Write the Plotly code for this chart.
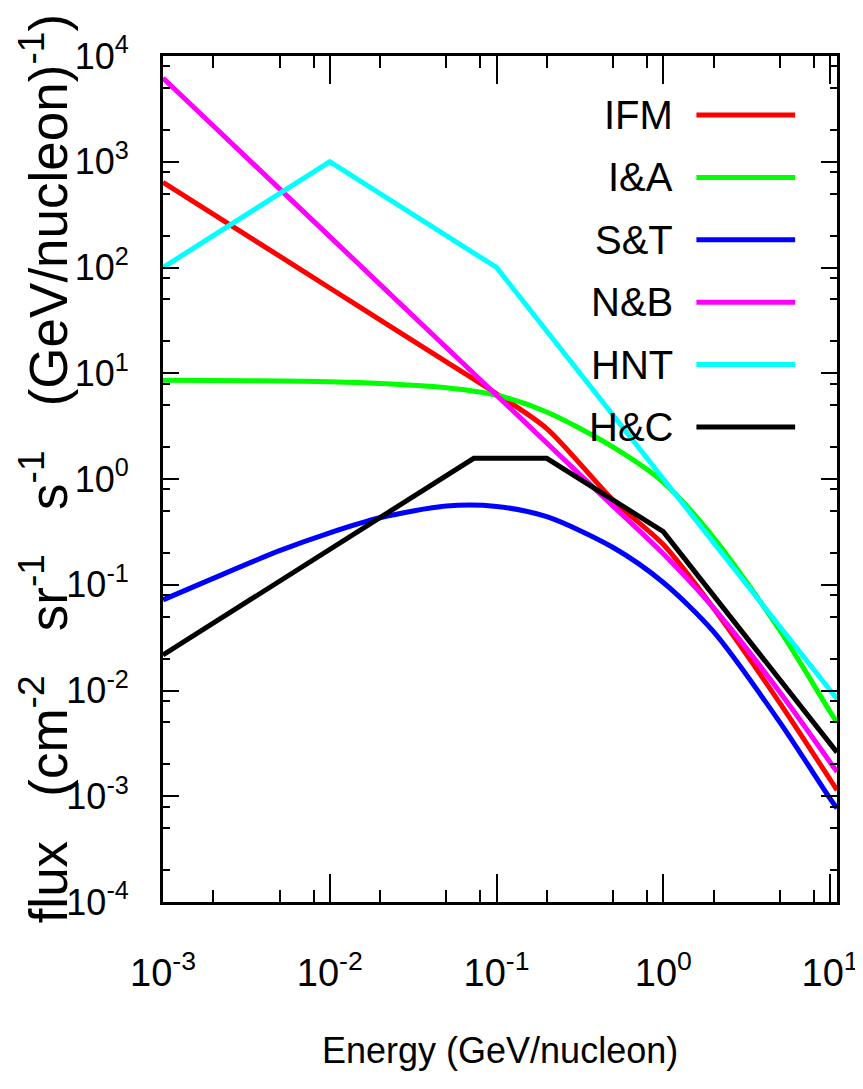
import numpy as np
import plotly.graph_objects as go

# ---- data ----
energy = [0.001, 0.002, 0.005, 0.01, 0.02, 0.05, 0.1, 0.2, 0.5, 1, 2, 5, 10, 11]
ifm = [640, 320, 128, 64, 32, 12.8, 6.4, 3.0, 0.63, 0.24, 0.06, 0.0076, 0.00144, 0.00114]
ia = [8.6, 8.55, 8.45, 8.3, 8.0, 7.3, 6.2, 4.3, 2.0, 0.93, 0.28, 0.037, 0.0063, 0.0050]
st = [0.072, 0.115, 0.21, 0.31, 0.43, 0.555, 0.55, 0.44, 0.225, 0.105, 0.036, 0.005, 0.00095, 0.00077]
nb = [6200, 2190, 554, 196, 69.3, 17.5, 6.2, 2.19, 0.554, 0.196, 0.0603, 0.00965, 0.0021, 0.0017]

hnt_e = [0.001, 0.01, 0.1, 11]
hnt = [100, 1000, 100, 0.0083]

hc_e = [0.001, 0.073, 0.2, 1, 11]
hc = [0.0217, 1.57, 1.57, 0.318, 0.0026]

names = ["IFM", "I&A", "S&T", "N&B", "HNT", "H&C"]
colors = ["#ff0000", "#00ff00", "#0000ff", "#ff00ff", "#00ffff", "#000000"]

x_tick_vals = [1e-3, 1e-2, 1e-1, 1e0, 1e1]
x_tick_text = ["10<sup>-3</sup>", "10<sup>-2</sup>", "10<sup>-1</sup>", "10<sup>0</sup>", "10<sup>1</sup>"]
y_tick_vals = [1e-4, 1e-3, 1e-2, 1e-1, 1e0, 1e1, 1e2, 1e3, 1e4]
y_tick_text = ["10<sup>-4</sup>", "10<sup>-3</sup>", "10<sup>-2</sup>", "10<sup>-1</sup>", "10<sup>0</sup>",
               "10<sup>1</sup>", "10<sup>2</sup>", "10<sup>3</sup>", "10<sup>4</sup>"]

# ---- figure ----
# The page body keeps its default 8px margin: shift left/top margins by 8px.
OFF = 8
W, H = 863, 1089
L, R, T, B = 163 - OFF, 24 + OFF, 56 - OFF, 187 + OFF
FONT = "Liberation Sans, Arial, Helvetica, sans-serif"

series = [
    (names[0], energy, ifm, colors[0], "spline"),
    (names[1], energy, ia, colors[1], "spline"),
    (names[2], energy, st, colors[2], "spline"),
    (names[3], energy, nb, colors[3], "spline"),
    (names[4], hnt_e, hnt, colors[4], "linear"),
    (names[5], hc_e, hc, colors[5], "linear"),
]

fig = go.Figure()
for nm, xs, ys, col, shp in series:
    line = dict(color=col, width=5, shape=shp)
    if shp == "spline":
        line["smoothing"] = 0.8
    fig.add_trace(go.Scatter(x=xs, y=ys, mode="lines", name=nm, showlegend=False, line=line))

def minor_vals(lo, hi):
    out = []
    for d in range(lo, hi):
        for m in (2, 5, 8):
            out.append(m * 10.0 ** d)
    return out

common = dict(type="log", showline=True, linecolor="black", linewidth=3, mirror="ticks",
              ticks="inside", tickwidth=2, tickcolor="black", showgrid=False, zeroline=False,
              tickmode="array")

fig.update_layout(
    width=W, height=H, autosize=False,
    margin=dict(l=L, r=R, t=T, b=B, pad=0),
    paper_bgcolor="white", plot_bgcolor="white",
    showlegend=False,
    xaxis=dict(common, range=[-3, np.log10(11)], tickvals=x_tick_vals, ticktext=x_tick_text,
               ticklen=28, tickfont=dict(family=FONT, size=38, color="black"),
               ticklabelstandoff=35,
               minor=dict(ticks="inside", ticklen=12, tickwidth=2, tickcolor="black",
                          tickvals=minor_vals(-3, 2), showgrid=False)),
    yaxis=dict(common, range=[-4, 4], tickvals=y_tick_vals, ticktext=y_tick_text,
               ticklen=16, tickfont=dict(family=FONT, size=36, color="black"),
               ticklabelstandoff=24,
               minor=dict(ticks="inside", ticklen=7, tickwidth=2, tickcolor="black",
                          tickvals=minor_vals(-4, 4), showgrid=False)),
)

pw, ph = W - L - R, H - T - B
def px2x(px):
    return (px - OFF - L) / pw
def py2y(py):
    return (H - B - (py - OFF)) / ph

annotations = []
shapes = []
# legend (text left, sample line right)
for i, (nm, col) in enumerate(zip(names, colors)):
    yy = py2y(115 + i * 62.4)
    annotations.append(dict(xref="paper", yref="paper", x=px2x(677), y=yy, text=nm.replace("&", "&amp;"),
                            showarrow=False, xanchor="right", yanchor="middle",
                            font=dict(family=FONT, size=40, color="black")))
    shapes.append(dict(type="line", xref="paper", yref="paper", x0=px2x(698), x1=px2x(797),
                       y0=yy, y1=yy, line=dict(color=col, width=5)))

sp = "\u00a0"
gap = sp * 3
ytitle = ("flux" + gap + "(cm<sup>-2</sup>" + gap + "sr<sup>-1</sup>" + gap + "s<sup>-1</sup>" + gap +
          "(GeV/nucleon)<sup>-1</sup>)")
annotations.append(dict(xref="paper", yref="paper", x=px2x(43), y=py2y(469), text=ytitle, textangle=-90,
                        showarrow=False, xanchor="center", yanchor="middle",
                        font=dict(family=FONT, size=53, color="black")))
annotations.append(dict(xref="paper", yref="paper", x=px2x(501), y=py2y(1050), text="Energy (GeV/nucleon)",
                        showarrow=False, xanchor="center", yanchor="middle",
                        font=dict(family=FONT, size=36, color="black")))

fig.update_layout(annotations=annotations, shapes=shapes)
fig.write_html("out.html", config={"displayModeBar": False})
